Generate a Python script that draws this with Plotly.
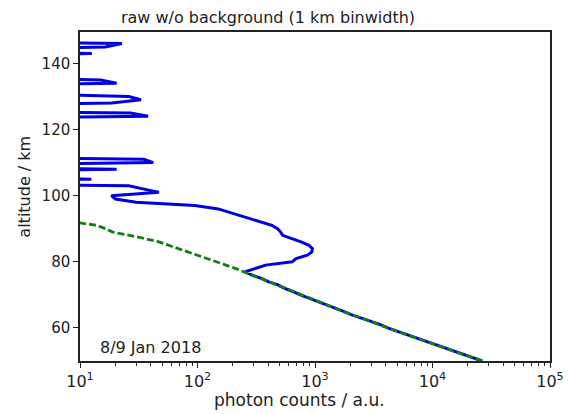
import plotly.graph_objects as go

# altitude bins (km), 1 km binwidth
alt_blue = list(range(50, 151))
# raw photon counts without background (values 0.1 lie below the axis range)
counts_blue = [
    26500, 22000, 18100, 15200, 12600, 10400, 8750, 7200, 6050, 5000,   # 50-59
    4150, 3600, 2950, 2500, 2030, 1750, 1470, 1270, 1040, 900,         # 60-69
    750, 650, 550, 485, 400, 350, 290, 255, 310, 380,                  # 70-79
    640, 690, 860, 940, 950, 890, 760, 640, 530, 510,                  # 80-89
    480, 430, 345, 285, 225, 180, 150, 95, 30, 20,                     # 90-99
    18.5, 47, 35, 26, 0.1, 12.5, 0.1, 0.1, 20.5, 0.1,                  # 100-109
    42, 35, 0.1, 0.1, 0.1, 0.1, 0.1, 0.1, 0.1, 0.1,                    # 110-119
    0.1, 0.1, 0.1, 0.1, 38, 27, 0.1, 0.1, 18.6, 33,                    # 120-129
    26, 0.1, 0.1, 0.1, 20.5, 15, 0.1, 0.1, 0.1, 0.1,                   # 130-139
    0.1, 0.1, 0.1, 12.6, 1, 16.4, 22.7, 0.1, 0.1, 0.1,                 # 140-149
    0.1,                                                                # 150
]

alt_green = list(range(50, 93))
counts_green = [
    26500, 21900, 18200, 15100, 12600, 10500, 8700, 7250, 6000, 5000,  # 50-59
    4170, 3470, 2880, 2450, 2040, 1740, 1480, 1260, 1050, 890,         # 60-69
    760, 645, 555, 480, 405, 345, 295, 250, 210, 175,                  # 70-79
    145, 120, 100, 82, 70, 58, 47, 36, 26, 19,                         # 80-89
    16.5, 14, 9,                                                        # 90-92
]

x_tickvals = [10, 100, 1000, 10000, 100000]
x_ticktext = ["10<sup>1</sup>", "10<sup>2</sup>", "10<sup>3</sup>", "10<sup>4</sup>", "10<sup>5</sup>"]
x_minor = [m * v for v in x_tickvals[:-1] for m in range(2, 10)]
y_tickvals = [60, 80, 100, 120, 140]

FONT = "DejaVu Sans"
TXT = "#222222"

fig = go.Figure()
fig.add_trace(go.Scatter(
    x=counts_blue, y=alt_blue, mode="lines",
    line=dict(color="rgb(0,0,225)", width=3),
    showlegend=False,
))
fig.add_trace(go.Scatter(
    x=counts_green, y=alt_green, mode="lines",
    line=dict(color="rgb(20,125,20)", width=2.8, dash="7px,3px"),
    showlegend=False,
))

fig.update_layout(
    width=568, height=414,
    margin=dict(l=80, r=18, t=32, b=53, autoexpand=False),
    paper_bgcolor="white", plot_bgcolor="white",
    font=dict(family=FONT, color=TXT),
    title=dict(
        text="raw w/o background (1 km binwidth)",
        x=268 / 568, xref="container", xanchor="center",
        y=1 - 17 / 414, yref="container", yanchor="middle",
        font=dict(size=16, family=FONT, color=TXT),
    ),
)

fig.update_xaxes(
    type="log", range=[1, 5], automargin=False,
    tickvals=x_tickvals, ticktext=x_ticktext,
    ticks="outside", ticklen=5, tickwidth=1, tickcolor=TXT,
    minor=dict(tickvals=x_minor, ticks="outside", ticklen=3, tickcolor=TXT, tickwidth=1),
    showline=True, linecolor=TXT, linewidth=1.5, mirror=True,
    showgrid=False, zeroline=False,
    tickfont=dict(size=16, family=FONT, color=TXT),
)
fig.update_yaxes(
    range=[50, 149.5], automargin=False,
    tickvals=y_tickvals,
    ticks="outside", ticklen=5, tickwidth=1, tickcolor=TXT,
    showline=True, linecolor=TXT, linewidth=1.5, mirror=True,
    showgrid=False, zeroline=False,
    tickfont=dict(size=15, family=FONT, color=TXT),
)

# axis titles
fig.add_annotation(
    text="photon counts / a.u.", xref="paper", yref="paper",
    x=0.468, y=-0.1185, xanchor="center", yanchor="middle",
    showarrow=False, font=dict(size=17, family=FONT, color=TXT),
)
fig.add_annotation(
    text="altitude / km", xref="paper", yref="paper",
    x=-0.117, y=0.53, xanchor="center", yanchor="middle", textangle=-90,
    showarrow=False, font=dict(size=16, family=FONT, color=TXT),
)
fig.add_annotation(
    text="8/9 Jan 2018", xref="paper", yref="paper",
    x=0.038, y=0.04, xanchor="left", yanchor="middle",
    showarrow=False, font=dict(size=16, family=FONT, color=TXT),
)

fig.write_html("out.html")
